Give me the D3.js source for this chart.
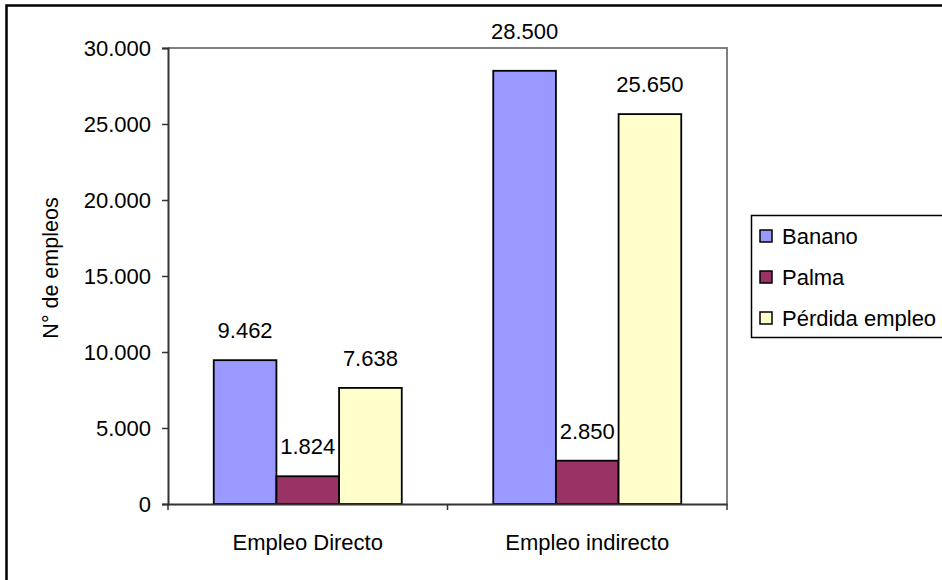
<!DOCTYPE html>
<html lang="es">
  <head>
    <meta charset="UTF-8" />
    <title>Empleos</title>
    <style>
      body { margin: 0; background: #fff; }
      svg text { font-family: "Liberation Sans", Arial, sans-serif; fill: #000; }
    </style>
  </head>
  <body>
    <div id="wrapper"></div>
    <script src="https://d3js.org/d3.v7.min.js"></script>
    <script>
      // data
      const categories = ["Empleo Directo", "Empleo indirecto"];
      const seriesNames = ["Banano", "Palma", "Pérdida empleo"];
      const banano = [9462, 28500];
      const palma = [1824, 2850];
      const perdida = [7638, 25650];
      const yTicks = [0, 5000, 10000, 15000, 20000, 25000, 30000];
      const colors = ["#9999ff", "#993366", "#ffffcc"];

      const values = [banano, palma, perdida];

      const W = 942, H = 580;
      const plot = { left: 168, right: 727, top: 48, bottom: 504 };
      const fontSize = 22;

      const svg = d3.select("#wrapper").append("svg")
        .attr("width", W).attr("height", H);

      // outer chart border (runs off the right and bottom edge)
      svg.append("rect")
        .attr("x", 6.5).attr("y", 5.5)
        .attr("width", 1200).attr("height", 1200)
        .attr("fill", "none").attr("stroke", "#000").attr("stroke-width", 2.5);

      const fmt = d3.formatLocale({ decimal: ",", thousands: ".", grouping: [3], currency: ["", ""] }).format(",d");

      const x0 = d3.scaleBand().domain(categories).range([plot.left, plot.right]);
      const x1 = d3.scaleBand().domain(seriesNames).range([0, x0.bandwidth()]).paddingOuter(0.73);
      const y = d3.scaleLinear().domain([0, 30000]).range([plot.bottom, plot.top]);

      // gray frame: top and right
      svg.append("path")
        .attr("d", `M${plot.left},${y(30000)}H${plot.right}V${plot.bottom}`)
        .attr("fill", "none").attr("stroke", "#808080").attr("stroke-width", 2);

      // bars
      const rows = [];
      categories.forEach(function (c, i) {
        seriesNames.forEach(function (s, j) {
          rows.push({ cat: c, series: s, value: values[j][i], color: colors[j] });
        });
      });

      svg.append("g").selectAll("rect")
        .data(rows)
        .enter().append("rect")
        .attr("x", d => x0(d.cat) + x1(d.series))
        .attr("y", d => y(d.value))
        .attr("width", x1.bandwidth())
        .attr("height", d => y(0) - y(d.value))
        .attr("fill", d => d.color)
        .attr("stroke", "#000").attr("stroke-width", 1.8);

      // data labels (pushed above the plot frame when they would cross it)
      svg.append("g").selectAll("text")
        .data(rows)
        .enter().append("text")
        .attr("x", d => x0(d.cat) + x1(d.series) + x1.bandwidth() / 2)
        .attr("y", function (d) {
          let base = y(d.value) - 22;
          if (base - 16 < plot.top && base > plot.top - 16) base = plot.top - 9;
          return base;
        })
        .attr("text-anchor", "middle")
        .attr("font-size", fontSize)
        .text(d => fmt(d.value));

      // y axis
      const yAxis = svg.append("g")
        .attr("transform", `translate(${plot.left},0)`)
        .call(d3.axisLeft(y).tickValues(yTicks).tickSize(6).tickPadding(11).tickFormat(fmt));
      yAxis.select(".domain").attr("stroke", "#333").attr("stroke-width", 2);
      yAxis.selectAll(".tick line").attr("stroke", "#333").attr("stroke-width", 1.5);
      yAxis.selectAll(".tick text").attr("font-size", fontSize).attr("font-family", "Liberation Sans, Arial, sans-serif").attr("fill", "#000");

      // x axis
      const xAxis = svg.append("g")
        .attr("transform", `translate(0,${plot.bottom})`)
        .call(d3.axisBottom(x0).tickSize(0).tickPadding(30));
      xAxis.select(".domain").attr("stroke", "#333").attr("stroke-width", 2);
      xAxis.selectAll(".tick text").attr("font-size", fontSize).attr("font-family", "Liberation Sans, Arial, sans-serif").attr("fill", "#000");
      // category separators
      const edges = categories.map(c => x0(c)).concat([x0.range()[1]]);
      xAxis.selectAll(".sep").data(edges).enter().append("line")
        .attr("class", "sep")
        .attr("x1", d => d).attr("x2", d => d)
        .attr("y1", 0).attr("y2", 6)
        .attr("stroke", "#333").attr("stroke-width", 1.5);

      // y axis title
      svg.append("text")
        .attr("transform", `translate(58,${(plot.top + plot.bottom) / 2 - 8}) rotate(-90)`)
        .attr("text-anchor", "middle")
        .attr("font-size", 21.5)
        .text("N° de empleos");

      // legend
      const legend = svg.append("g").attr("transform", "translate(751,215)");
      legend.append("rect")
        .attr("x", 0.5).attr("y", 0.5).attr("width", 400).attr("height", 122)
        .attr("fill", "#fff").attr("stroke", "#000").attr("stroke-width", 1.5);
      const item = legend.selectAll(".item").data(seriesNames).enter().append("g")
        .attr("class", "item")
        .attr("transform", (d, i) => `translate(0,${21 + i * 41})`);
      item.append("rect")
        .attr("x", 9).attr("y", -6).attr("width", 12).attr("height", 12)
        .attr("fill", (d, i) => colors[i]).attr("stroke", "#000").attr("stroke-width", 1.5);
      item.append("text")
        .attr("x", 31).attr("y", 0).attr("dy", "0.35em")
        .attr("font-size", fontSize)
        .text(d => d);
    </script>
  </body>
</html>
